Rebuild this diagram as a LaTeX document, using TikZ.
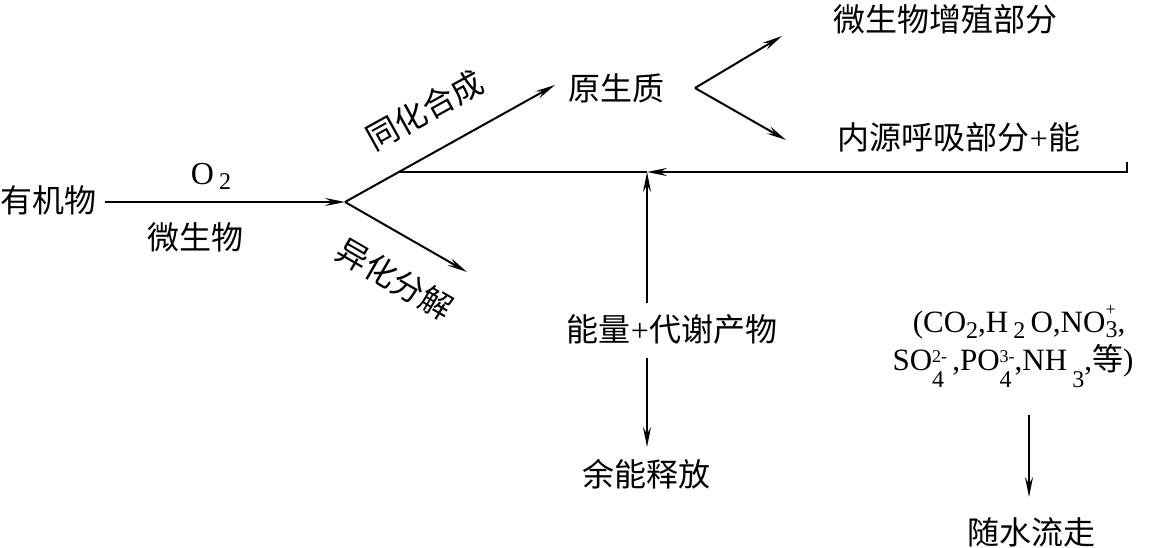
\documentclass[tikz,border=0pt]{standalone}
\usepackage{fontspec}
\setmainfont{Liberation Serif}
\newfontfamily\cjk{Noto Sans CJK SC}
\usetikzlibrary{arrows.meta}
\newcommand{\csub}[2]{\raisebox{-#1pt}{\fontsize{24}{24}\selectfont #2}}
\newcommand{\csubsup}[4]{%
  \setbox0\hbox{\fontsize{24}{24}\selectfont #3}%
  \setbox2\hbox{\fontsize{18}{18}\selectfont #4}%
  \ifdim\wd0>\wd2 \dimen0=\wd0 \else \dimen0=\wd2 \fi
  \rlap{\raisebox{-#1pt}{\copy0}}\rlap{\raisebox{#2pt}{\copy2}}\hspace{\dimen0}}
\begin{document}
\begin{tikzpicture}[x=1pt,y=-1pt,
  cj/.style={font=\cjk\fontsize{32}{36}\selectfont, inner sep=0pt},
  lat/.style={font=\rmfamily\fontsize{32}{36}\selectfont, inner sep=0pt},
  form/.style={font=\rmfamily\fontsize{31}{36}\selectfont, inner sep=0pt, anchor=base},
  ln/.style={line width=2pt},
  arr/.style={ln, -{Stealth[length=20pt,width=8pt,inset=7pt]}}]
\useasboundingbox (0,0) rectangle (1155,548);
% nodes
\node[cj] (A) at (48,200) {有机物};
\node[lat, anchor=base] (O2) at (211,185) {O\,\csub{5}{2}};
\node[cj] (mic) at (195,237) {微生物};
\node[cj, rotate=29] (tong) at (425,110) {同化合成};
\node[cj, rotate=-30] (yi) at (395,279) {异化分解};
\node[cj] (yuan) at (616,88) {原生质};
\node[cj] (zeng) at (945,19) {微生物增殖部分};
\node[cj] (nei) at (959,137) {内源呼吸部分{\rmfamily+}能};
\node[cj] (E) at (672,329) {能量{\rmfamily+}代谢产物};
\node[cj] (yu) at (646,474) {余能释放};
\node[form] (f1) at (1019,332) {(CO\csub{6}{2},H\,\csub{6}{2}\,O,NO\csubsup{5}{17}{3}{+},};
\node[form] (f2) at (1013,370) {SO\csubsup{17}{8}{4}{2-}\,,PO\csubsup{17}{8}{4}{3-},NH\,\csub{17}{3},{\cjk 等})};
\node[cj] (sui) at (1031,532) {随水流走};
% coordinates
\coordinate (a0) at (105,202);
\coordinate (B) at (345,202);
\coordinate (up) at (555,85);
\coordinate (dn) at (467,272);
\coordinate (V) at (695,88);
\coordinate (v1) at (782,36);
\coordinate (v2) at (786,140);
\coordinate (R1) at (1127,162);
\coordinate (R2) at (1127,172);
\coordinate (M) at (647,172);
\coordinate (J) at (399,172);
\coordinate (e1) at (647,303);
\coordinate (e2) at (647,358);
\coordinate (e3) at (647,447);
\coordinate (s1) at (1029,415);
\coordinate (s2) at (1029,497);
% connectors
\draw[arr] (a0) -- (B);
\draw[arr] (B) -- (up);
\draw[arr] (B) -- (dn);
\draw[arr] (V) -- (v1);
\draw[arr] (V) -- (v2);
\draw[arr] (R1) -- (R2) -- (M);
\draw[ln] (M) -- (J);
\draw[arr] (e1) -- (M);
\draw[arr] (e2) -- (e3);
\draw[arr] (s1) -- (s2);
\end{tikzpicture}
\end{document}
